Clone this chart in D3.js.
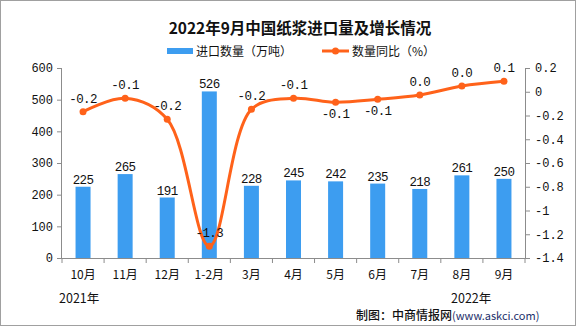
<!DOCTYPE html>
<html><head><meta charset="utf-8">
<script src="https://cdn.jsdelivr.net/npm/d3@7"></script>
<style>
html,body{margin:0;padding:0;background:#fff;}
svg{display:block;}
</style></head>
<body>
<script>
const categories = ["10月","11月","12月","1-2月","3月","4月","5月","6月","7月","8月","9月"];
const importVolume = [225,265,191,526,228,245,242,235,218,261,250];
const yoyRatio = [-0.168,-0.055,-0.232,-1.30,-0.148,-0.055,-0.089,-0.064,-0.027,0.048,0.088];
const yoyLabels = ["-0.2","-0.1","-0.2","-1.3","-0.2","-0.1","-0.1","-0.1","0.0","0.0","0.1"];
const yoyLabelBelow = [false,false,false,false,false,false,true,true,false,false,false];
const leftTicks = [0,100,200,300,400,500,600];
const rightTicks = [0.2,0,-0.2,-0.4,-0.6,-0.8,-1,-1.2,-1.4];
const title = "2022年9月中国纸浆进口量及增长情况";
const legendBar = "进口数量（万吨）";
const legendLine = "数量同比（%）";

(function(){
const W = 576, H = 327;
const pL = 62, pR = 525, pT = 68, pB = 258;
const barColor = "#3d9df0", lineColor = "#ff621a", axisColor = "#8c8c8c";
const mono = "'Liberation Mono','DejaVu Sans Mono',monospace";
const cjk = "'Noto Sans CJK SC','Noto Sans',sans-serif";

const svg = d3.select("body").append("svg").attr("width", W).attr("height", H);
svg.append("rect").attr("x",0.5).attr("y",0.5).attr("width",W-1).attr("height",H-2)
  .attr("fill","#fff").attr("stroke","#a0a0a0");

const xb = d3.scaleBand().domain(categories).range([pL,pR]);
const yL = d3.scaleLinear().domain([0,600]).range([pB,pT]);
const yR = d3.scaleLinear().domain([-1.4,0.2]).range([pB,pT]);

// title
svg.append("text").attr("x",300).attr("y",34).attr("text-anchor","middle")
  .attr("font-family",cjk).attr("font-weight","bold").attr("font-size",15.5).attr("fill","#111").text(title);

// legend
const lg = svg.append("g").attr("font-family",cjk).attr("font-size",12).attr("fill","#111");
lg.append("rect").attr("x",167).attr("y",48).attr("width",26).attr("height",6).attr("fill",barColor);
lg.append("text").attr("x",196).attr("y",56).text(legendBar);
lg.append("line").attr("x1",322).attr("x2",349).attr("y1",51).attr("y2",51).attr("stroke",lineColor).attr("stroke-width",3);
lg.append("circle").attr("cx",335.5).attr("cy",51).attr("r",3.5).attr("fill",lineColor);
lg.append("text").attr("x",352).attr("y",56).text(legendLine);

// bars
svg.append("g").selectAll("rect").data(importVolume).join("rect")
  .attr("x",(d,i)=>xb(categories[i])+xb.bandwidth()/2-7.5)
  .attr("width",15)
  .attr("y",d=>yL(d)).attr("height",d=>pB-yL(d)).attr("fill",barColor);

// axes
const axL = svg.append("g").attr("transform",`translate(${pL},0)`)
  .call(d3.axisLeft(yL).tickValues(leftTicks).tickSize(5).tickPadding(4));
const axR = svg.append("g").attr("transform",`translate(${pR},0)`)
  .call(d3.axisRight(yR).tickValues(rightTicks).tickSize(5).tickPadding(5)
  .tickFormat(d=>d===0?"0":String(+d.toFixed(1))));
const axB = svg.append("g").attr("transform",`translate(0,${pB})`)
  .call(d3.axisBottom(xb).tickSize(0).tickPadding(12));
[axL,axR,axB].forEach(a=>{
  a.selectAll("path.domain").attr("stroke",axisColor);
  a.selectAll("line").attr("stroke",axisColor);
  a.selectAll("text").attr("fill","#111").attr("font-size",12);
});
axL.selectAll("text").attr("font-family",mono);
axR.selectAll("text").attr("font-family",mono);
axB.selectAll("text").attr("font-family",cjk).attr("font-size",12);
axL.select("path.domain").attr("d",`M-0.5,${pB}V${pT}`);
axR.select("path.domain").attr("d",`M0.5,${pB}V${pT}`);
axB.select("path.domain").attr("d",`M${pL},0.5H${pR}`);
// category boundary ticks
const bTicks = categories.map(c=>xb(c)).concat([pR]);
svg.append("g").selectAll("line").data(bTicks).join("line")
  .attr("x1",d=>d).attr("x2",d=>d).attr("y1",pB).attr("y2",pB+5).attr("stroke",axisColor);

// line
const pts = yoyRatio.map((v,i)=>[xb(categories[i])+xb.bandwidth()/2, yR(v)]);
svg.append("path").attr("d",d3.line().curve(d3.curveCatmullRom.alpha(0.5))(pts))
  .attr("fill","none").attr("stroke",lineColor).attr("stroke-width",3);
svg.append("g").selectAll("circle").data(pts).join("circle")
  .attr("cx",d=>d[0]).attr("cy",d=>d[1]).attr("r",3.5).attr("fill",lineColor);

// bar labels
svg.append("g").attr("font-family",mono).attr("font-size",12.5).attr("fill","#111")
  .selectAll("text").data(importVolume).join("text")
  .attr("x",(d,i)=>xb(categories[i])+xb.bandwidth()/2).attr("y",d=>yL(d)-3)
  .attr("text-anchor","middle").attr("letter-spacing",-0.6).text(d=>d);

// line labels
svg.append("g").attr("font-family",mono).attr("font-size",12.5).attr("fill","#111")
  .selectAll("text").data(yoyLabels).join("text")
  .attr("x",(d,i)=>pts[i][0]).attr("y",(d,i)=>yoyLabelBelow[i]?pts[i][1]+16:pts[i][1]-9)
  .attr("text-anchor","middle").attr("letter-spacing",-0.6).text(d=>d);

// years & source
const ft = svg.append("g").attr("font-family",cjk).attr("font-size",12.5).attr("fill","#111");
ft.append("text").attr("x",59).attr("y",303).text("2021年");
ft.append("text").attr("x",451).attr("y",303).text("2022年");
const src = ft.append("text").attr("x",356).attr("y",320).attr("font-size",12);
src.append("tspan").attr("font-weight",500).text("制图：中商情报网");
src.append("tspan").attr("fill","#1c2f6b").attr("font-size",11).text("(www.askci.com)");
})();
</script>
</body></html>
